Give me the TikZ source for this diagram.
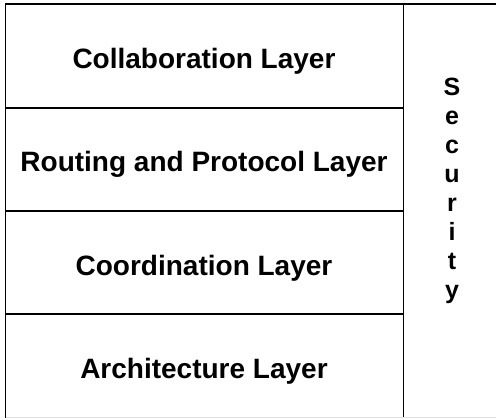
\documentclass[tikz,border=0pt]{standalone}
\usepackage{fontspec}
\setmainfont{Liberation Sans}
\begin{document}
\begin{tikzpicture}[x=1pt,y=-1pt,
  frame/.style={draw=black,line width=1.6pt},
  layer/.style={font=\bfseries\fontsize{28}{30}\selectfont,anchor=base,inner sep=0pt},
  side/.style={font=\bfseries\fontsize{25}{29}\selectfont,align=center,anchor=base,inner sep=0pt}]
\useasboundingbox (0,0) rectangle (496,419);
% outer frame and column divider
\coordinate (tl) at (5.5,4);
\coordinate (tr) at (496,4);
\coordinate (bl) at (5.5,418);
\coordinate (divT) at (403.5,4);
\coordinate (divB) at (403.5,418);
\draw[frame] (tr) -- (tl) -- (bl);
\draw[frame] (divT) -- (divB);
\draw[draw=black!12,line width=1pt] (bl) -- (496,418);
% row separators
\coordinate (r1a) at (5.5,108); \coordinate (r1b) at (403.5,108);
\coordinate (r2a) at (5.5,211); \coordinate (r2b) at (403.5,211);
\coordinate (r3a) at (5.5,314); \coordinate (r3b) at (403.5,314);
\draw[frame] (r1a) -- (r1b);
\draw[frame] (r2a) -- (r2b);
\draw[frame] (r3a) -- (r3b);
% layer labels
\node[layer] (collab) at (204,68.5) {Collaboration Layer};
\node[layer] (routing) at (204,172) {Routing and Protocol Layer};
\node[layer] (coord) at (204,275.5) {Coordination Layer};
\node[layer] (arch) at (204,378.5) {Architecture Layer};
% vertical label, anchored at the baseline of its last line
\node[side] (sec) at (452,299) {S\\e\\c\\u\\r\\i\\t\\y};
\end{tikzpicture}
\end{document}
